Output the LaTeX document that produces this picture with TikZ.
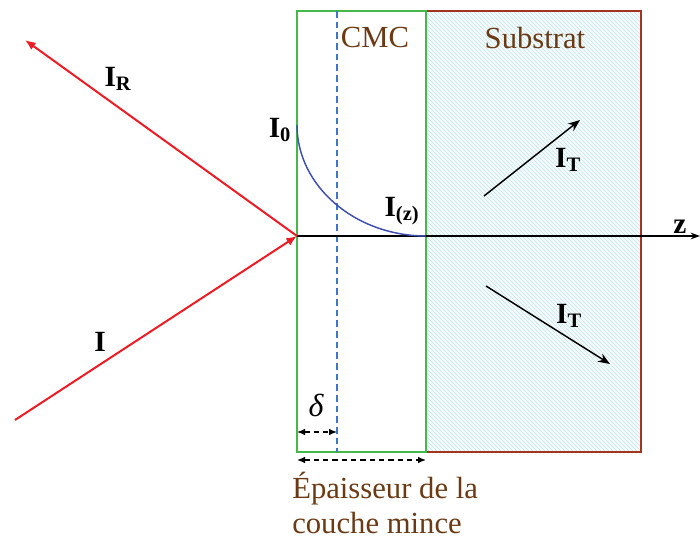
\documentclass[tikz,border=0pt]{standalone}
\usepackage{fontspec}
\setmainfont{Liberation Serif}
\usetikzlibrary{arrows.meta,patterns}
\definecolor{rayred}{HTML}{ED1C24}
\definecolor{cmcgreen}{HTML}{44B848}
\definecolor{subbrown}{HTML}{A3341F}
\definecolor{txtbrown}{HTML}{6B3A14}
\definecolor{curveblue}{HTML}{3F4FB0}
\definecolor{dashblue}{HTML}{4472C4}
\definecolor{hatch}{HTML}{C2E4E9}
\definecolor{hatchbg}{HTML}{F6FCFD}

\begin{document}
\begin{tikzpicture}[
  x=0.75pt, y=-0.75pt,
  ray/.style={draw=rayred, line width=1.5pt, -{Latex[length=8pt,width=6.5pt]}},
  trans/.style={line width=1.1pt, -{Stealth[length=9pt,width=7pt]}},
  gap/.style={dashed, dash pattern=on 4pt off 3pt, line width=1pt, {Latex[length=6pt,width=5pt]}-{Latex[length=6pt,width=5pt]}},
  lbl/.style={inner sep=0pt, font=\fontsize{22}{24}\selectfont\bfseries},
  layer/.style={inner sep=0pt, text=txtbrown, font=\fontsize{23}{26}\selectfont}
]
\useasboundingbox (0,0) rectangle (700,538);

% substrate
\fill[hatchbg] (426,11) rectangle (641,452);
\fill[pattern=north west lines, pattern color=hatch] (426,11) rectangle (641,452);
\draw[subbrown, line width=1.8pt] (426,11) rectangle (641,452);
% thin layer
\draw[cmcgreen, line width=1.9pt] (297,11) rectangle (426,452);
\draw[dashblue, line width=1.1pt, dashed, dash pattern=on 5pt off 3pt] (337,11) -- (337,452);

\node[layer] (cmc) at (375,38) {CMC};
\node[layer] (sub) at (535,38) {Substrat};

% axis
\coordinate (O) at (297,236);
\coordinate (zend) at (700,236);
\draw[line width=1.1pt, -{Stealth[length=7pt,width=5pt]}] (O) -- (zend);
\node[lbl] (z) at (680,227) {z};

% incident and reflected
\coordinate (src) at (15,420);
\coordinate (refl) at (25,40);
\draw[ray] (src) -- (O);
\draw[ray] (O) -- (refl);
\node[lbl] (IR) at (118,79) {I\textsubscript{R}};
\node[lbl] (Iin) at (100,342) {I};

% decay in the layer
\coordinate (top) at (297,125);
\coordinate (bot) at (426,236);
\draw[curveblue, line width=1.1pt] (top) .. controls (297,186) and (355,236) .. (bot);
\node[lbl] (I0) at (280,130) {I\textsubscript{0}};
\node[lbl] (Iz) at (402,211) {I\textsubscript{(z)}};

% transmitted
\coordinate (t1a) at (484,196);
\coordinate (t1b) at (580,120);
\coordinate (t2a) at (486,286);
\coordinate (t2b) at (610,364);
\draw[trans] (t1a) -- (t1b);
\draw[trans] (t2a) -- (t2b);
\node[lbl] (IT1) at (568,160) {I\textsubscript{T}};
\node[lbl] (IT2) at (569,316) {I\textsubscript{T}};

% thicknesses
\coordinate (d0) at (297,432);
\coordinate (d1) at (337,432);
\coordinate (e0) at (297,460);
\coordinate (e1) at (426,460);
\draw[gap] (d0) -- (d1);
\draw[gap] (e0) -- (e1);
\node[inner sep=0pt, font=\fontsize{24}{26}\selectfont\itshape] (delta) at (316,405) {δ};
\node[layer, align=left, anchor=north west] (ep) at (292,472) {Épaisseur de la\\couche mince};
\end{tikzpicture}
\end{document}
